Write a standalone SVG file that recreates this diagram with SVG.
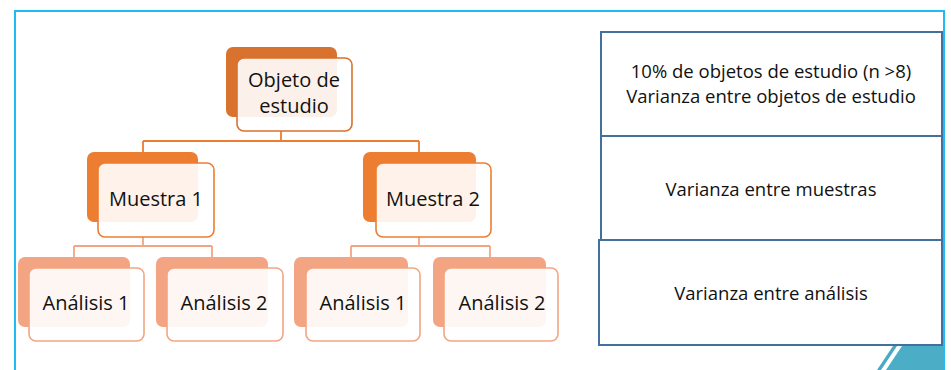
<svg xmlns="http://www.w3.org/2000/svg" width="951" height="370" viewBox="0 0 951 370">
<style>
.t{font-family:"Open Sans","Liberation Sans",sans-serif;fill:#111;text-anchor:middle}
.n{font-size:20px}
.r{font-size:18.5px}
.front{fill:#fff;fill-opacity:0.9;stroke-width:1.6}
.c1{fill:#D8722E}
.s1{stroke:#D8722E}
.c2{fill:#ED7D31}
.s2{stroke:#ED7D31}
.c3{fill:#F3A583}
.s3{stroke:#F3A583}
.conn{fill:none;stroke-width:1.8}
.box{fill:#fff;stroke:#41719C;stroke-width:2}
</style>
<rect width="951" height="370" fill="#fff"/>
<g id="background">
<path d="M877 370 L893 346 L897 346 L881 370 Z" fill="#4BA8C6"/>
<path d="M886 370 L902 346 L944 346 L944 370 Z" fill="#4BAEC6"/>
<path d="M944 250 Q936 254 944 262" fill="none" stroke="#A9D4DF" stroke-width="2"/>
<path d="M15 370 V11 H944 V370" fill="none" stroke="#1DBDF2" stroke-width="2"/>
</g>
<g id="connectors">
<path class="conn s2" d="M281 131 V141 M143 141 H419 M143 141 V152 M419 141 V152"/>
<path class="conn s3" d="M143 237 V246 M74 246 H212 M74 246 V257 M212 246 V257"/>
<path class="conn s3" d="M419 237 V246 M351 246 H490 M351 246 V257 M490 246 V257"/>
</g>
<g id="node-objeto">
<rect class="c1" x="226" y="47" width="111" height="70" rx="7"/>
<rect class="front s1" x="237" y="58" width="115" height="73" rx="7"/>
<text class="t n" x="294" y="87">Objeto de</text>
<text class="t n" x="294" y="113">estudio</text>
</g>
<g id="node-muestra1">
<rect class="c2" x="87" y="152" width="111" height="70" rx="7"/>
<rect class="front s2" x="98" y="163" width="116" height="74" rx="7"/>
<text class="t n" x="156" y="206">Muestra 1</text>
</g>
<g id="node-muestra2">
<rect class="c2" x="363" y="152" width="113" height="70" rx="7"/>
<rect class="front s2" x="376" y="163" width="115" height="74" rx="7"/>
<text class="t n" x="433" y="206">Muestra 2</text>
</g>
<g id="node-analisis1a">
<rect class="c3" x="18" y="257" width="112" height="70" rx="7"/>
<rect class="front s3" x="29" y="268" width="115" height="73" rx="7"/>
<text class="t n" x="86" y="310">Análisis 1</text>
</g>
<g id="node-analisis2a">
<rect class="c3" x="156" y="257" width="112" height="70" rx="7"/>
<rect class="front s3" x="167" y="268" width="116" height="73" rx="7"/>
<text class="t n" x="224" y="310">Análisis 2</text>
</g>
<g id="node-analisis1b">
<rect class="c3" x="294" y="257" width="114" height="70" rx="7"/>
<rect class="front s3" x="306" y="268" width="114" height="73" rx="7"/>
<text class="t n" x="363" y="310">Análisis 1</text>
</g>
<g id="node-analisis2b">
<rect class="c3" x="433" y="257" width="113" height="70" rx="7"/>
<rect class="front s3" x="444" y="268" width="114" height="73" rx="7"/>
<text class="t n" x="502" y="310">Análisis 2</text>
</g>
<g id="table">
<rect class="box" x="601" y="32" width="341" height="104"/>
<rect class="box" x="601" y="136" width="341" height="104"/>
<rect class="box" x="599" y="240" width="343" height="105"/>
<text class="t r" x="771" y="78">10% de objetos de estudio (n &gt;8)</text>
<text class="t r" x="771" y="103">Varianza entre objetos de estudio</text>
<text class="t r" x="771" y="196">Varianza entre muestras</text>
<text class="t r" x="771" y="300">Varianza entre análisis</text>
</g>
</svg>
